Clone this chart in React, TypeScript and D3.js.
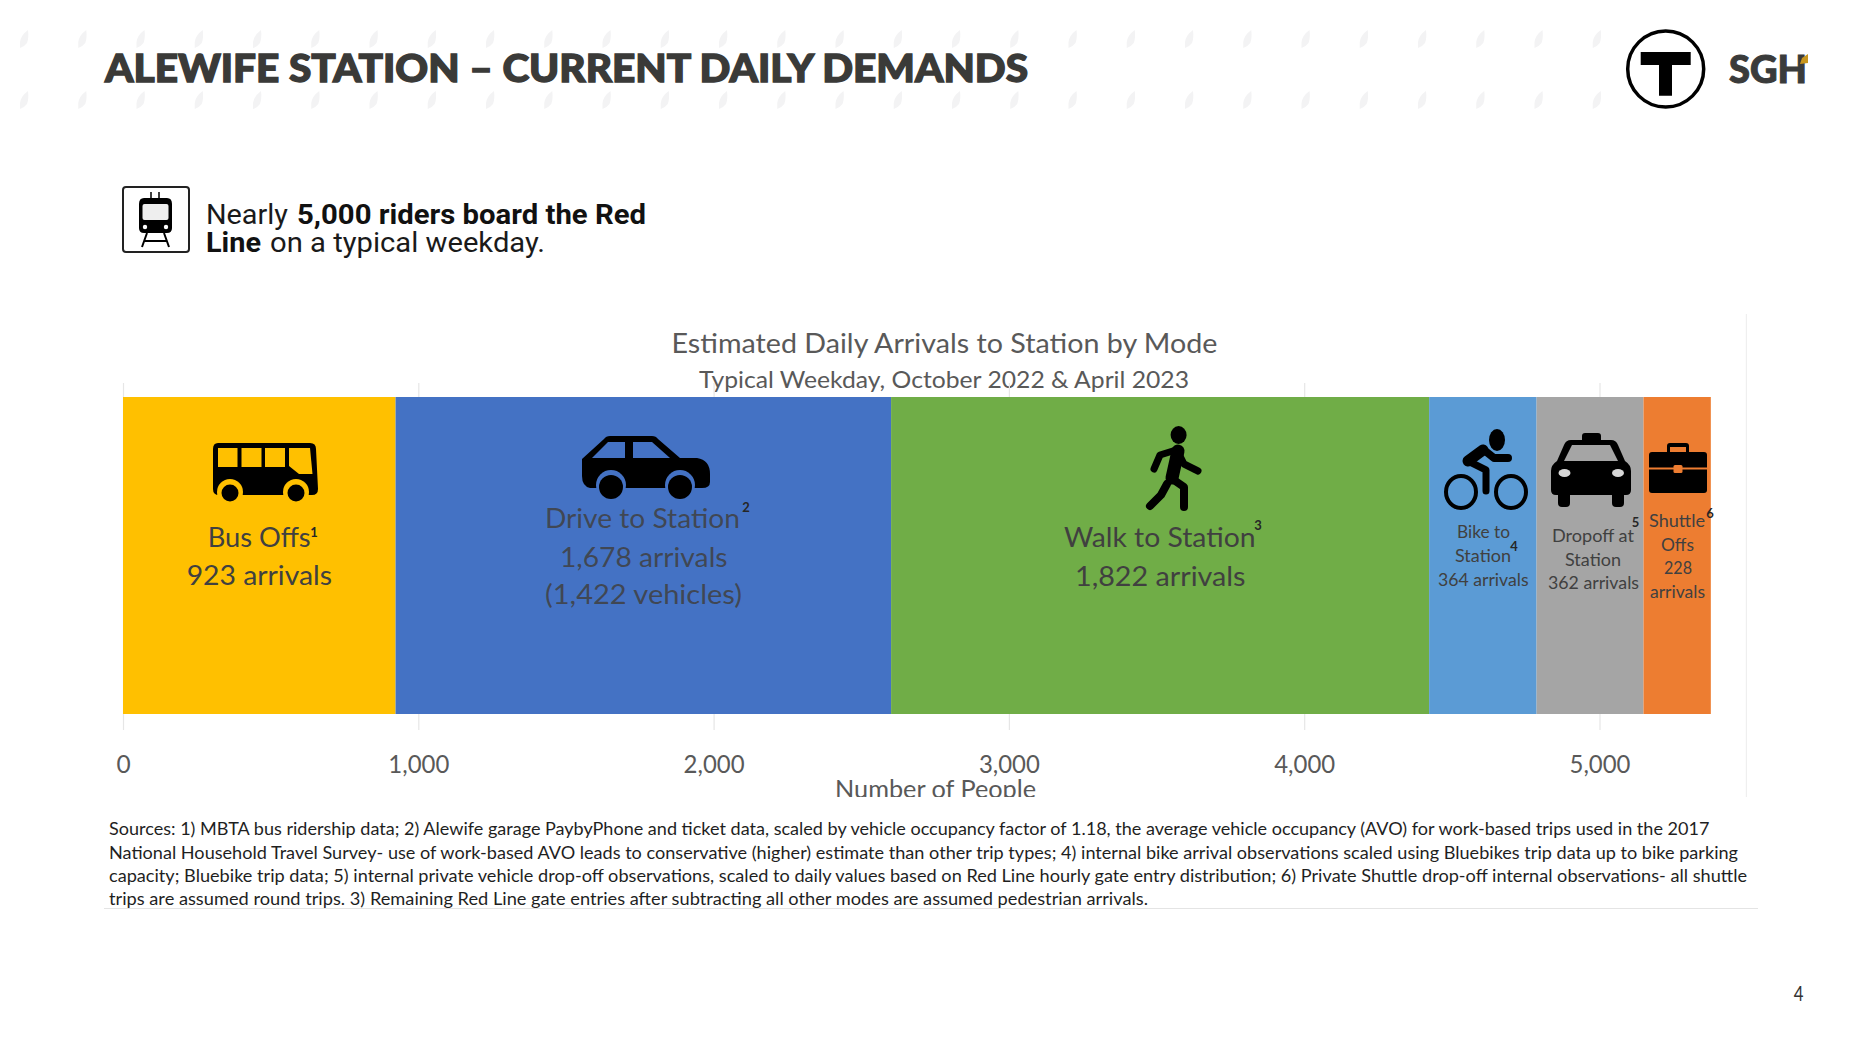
import React, { useEffect, useRef } from "react";
import * as d3 from "d3";

// values
const modes = ["Bus Offs", "Drive to Station", "Walk to Station", "Bike to Station", "Dropoff at Station", "Shuttle Offs"];
const arrivals = [923, 1678, 1822, 364, 362, 228];
const vehicles = 1422;
const barColors = ["#ffc000", "#4472c4", "#70ad47", "#5b9bd5", "#a5a5a5", "#ed7d31"];
const xTicks = [0, 1000, 2000, 3000, 4000, 5000];
const sourceLines = [
  "Sources: 1) MBTA bus ridership data; 2) Alewife garage PaybyPhone and ticket data, scaled by vehicle occupancy factor of 1.18, the average vehicle occupancy (AVO) for work-based trips used in the 2017",
  "National Household Travel Survey- use of work-based AVO leads to conservative (higher) estimate than other trip types; 4) internal bike arrival observations scaled using Bluebikes trip data up to bike parking",
  "capacity; Bluebike trip data; 5) internal private vehicle drop-off observations, scaled to daily values based on Red Line hourly gate entry distribution; 6) Private Shuttle drop-off internal observations- all shuttle",
  "trips are assumed round trips. 3) Remaining Red Line gate entries after subtracting all other modes are assumed pedestrian arrivals.",
];

const fmt = d3.format(",");
const chartFont = "Lato, 'Noto Sans', sans-serif";
const barText = "#404040";

const x = d3.scaleLinear().domain([0, 5000]).range([123, 1599.5]);
const barTop = 397;
const barBottom = 714;
const starts = [0, ...d3.cumsum(arrivals)];

// text squeezed between two x positions, the slide's font is narrower than Lato
const Fit = ({ x1, x2, y, size, fill = barText, weight = 400, font = chartFont, opacity = 1, thick = 0, children }: any) => (
  <text
    x={x1}
    y={y}
    textLength={x2 - x1}
    lengthAdjust="spacingAndGlyphs"
    fontSize={size}
    fontFamily={font}
    fontWeight={weight}
    fill={fill}
    fillOpacity={opacity}
    stroke={thick ? fill : "none"}
    strokeWidth={thick}
  >
    {children}
  </text>
);

const Sup = ({ x, y, children }: any) => (
  <text x={x} y={y} fontSize={13} fontFamily={chartFont} fontWeight={700} fill="#262626" textAnchor="middle">
    {children}
  </text>
);

const BusIcon = ({ bg }: any) => (
  <g transform="translate(213,443)">
    <path d="M5,0H97Q103,0 103,6L105,46Q105,52 99,52H6Q0,52 0,46V6Q0,0 5,0Z" fill="#000" />
    <g fill={bg}>
      <rect x={5} y={5} width={19.5} height={19} />
      <rect x={28.5} y={5} width={20} height={19} />
      <rect x={52} y={5} width={20} height={19} />
      <path d="M76,5H97L99.5,31H86L76,23Z" />
      <circle cx={17} cy={49} r={13} />
      <circle cx={83} cy={49} r={13} />
    </g>
    <circle cx={17} cy={50} r={8.5} fill="#000" />
    <circle cx={83} cy={50} r={8.5} fill="#000" />
  </g>
);

const CarIcon = ({ bg }: any) => (
  <g transform="translate(582,436)">
    <path d="M0,23L22,3Q24,0 28,0H70Q74,0 76,3L98,22H115Q128,24 128,38V46Q128,52 120,52H8Q0,50 0,40Z" fill="#000" />
    <g fill={bg}>
      <path d="M10,22L26,6H43V22Z" />
      <path d="M51,6H70L88,22H51Z" />
      <circle cx={29} cy={49} r={15} />
      <circle cx={98} cy={49} r={15} />
    </g>
    <circle cx={29} cy={51} r={12} fill="#000" />
    <circle cx={98} cy={51} r={12} fill="#000" />
  </g>
);

const WalkIcon = () => (
  <g transform="translate(1146,426)" stroke="#000" fill="none" strokeLinecap="round" strokeLinejoin="round">
    <ellipse cx={32.6} cy={9} rx={8} ry={9} fill="#000" stroke="none" />
    <path d="M32,25L26,52" strokeWidth={13} />
    <path d="M30,24L14,29L8,43" strokeWidth={7} />
    <path d="M32,26L38,38L52,45" strokeWidth={7} />
    <path d="M25,52L38,61V81" strokeWidth={8} />
    <path d="M21,58L15,69L4,80" strokeWidth={8} />
  </g>
);

const BikeIcon = () => (
  <g transform="translate(1444,428)" stroke="#000" fill="none" strokeLinecap="round" strokeLinejoin="round">
    <ellipse cx={53} cy={12} rx={8} ry={11} fill="#000" stroke="none" />
    <ellipse cx={17} cy={64} rx={15} ry={16} strokeWidth={4} />
    <ellipse cx={67} cy={64} rx={15} ry={16} strokeWidth={4} />
    <path d="M39,22L24,33" strokeWidth={11} />
    <path d="M24,33L42,42V63" strokeWidth={7} />
    <path d="M40,22L50,30H64" strokeWidth={8} />
  </g>
);

const TaxiIcon = ({ bg }: any) => (
  <g transform="translate(1551,433)">
    <rect x={31} y={0} width={19} height={10} rx={3} fill="#000" />
    <path d="M20,7H60Q65,7 67,12L74,28Q80,32 80,38V57Q80,62 75,62H5Q0,62 0,57V38Q0,32 6,28L13,12Q15,7 20,7Z" fill="#000" />
    <rect x={7} y={58} width={12} height={16} rx={4} fill="#000" />
    <rect x={61} y={58} width={12} height={16} rx={4} fill="#000" />
    <path d="M21,12H59L67,28H13Z" fill={bg} />
    <ellipse cx={13.5} cy={40} rx={6} ry={4} fill="#d8d8d8" />
    <ellipse cx={67} cy={40} rx={6} ry={4} fill="#d8d8d8" />
  </g>
);

const CaseIcon = ({ bg }: any) => (
  <g transform="translate(1649,443)">
    <rect x={18} y={0} width={22} height={14} rx={3} fill="#000" />
    <rect x={21} y={4} width={16} height={6} fill={bg} />
    <rect x={0} y={9} width={58} height={41} rx={3} fill="#000" />
    <rect x={0} y={24.5} width={58} height={2} fill={bg} />
    <rect x={24.5} y={22} width={9} height={8} rx={1.5} fill={bg} />
  </g>
);

const TrainIcon = () => (
  <g>
    <rect x={123} y={187} width={66} height={65} rx={3} fill="#fff" stroke="#222" strokeWidth={2} />
    <path d="M151,192V198M159,192V198" stroke="#000" strokeWidth={1.5} />
    <path d="M144,198H167Q172,198 172,204V228Q172,233 167,233H144Q139,233 139,228V204Q139,198 144,198Z" fill="#000" />
    <rect x={142.5} y={204} width={26} height={16} rx={2} fill="#eee" />
    <circle cx={145} cy={227} r={2.2} fill="#fff" />
    <circle cx={166} cy={227} r={2.2} fill="#fff" />
    <path d="M147,233L142,247M164,233L169,247M144,241H167" stroke="#000" strokeWidth={2} fill="none" />
  </g>
);

// faint slanted marks behind the header
const Backdrop = () => {
  const cols = d3.range(0, 28);
  const rows = [30, 91];
  return (
    <g fill="#f3f3f4">
      {rows.map((ry) =>
        cols.map((c) => (
          <path key={`${ry}-${c}`} transform={`translate(${19 + c * 58.25},${ry})`} d="M1,12Q2,5 9,0Q10,8 8,13Q5,17 1,18Z" />
        ))
      )}
    </g>
  );
};

export default function App() {
  const axisRef = useRef<SVGGElement>(null);

  useEffect(() => {
    const g = d3.select(axisRef.current);
    g.call(
      d3.axisBottom(x).tickValues(xTicks).tickFormat((d: any) => fmt(d)) as any
    );
    g.select(".domain").remove();
    g.selectAll(".tick line").attr("y1", -331).attr("y2", 16).attr("stroke", "#e6e6e6").attr("stroke-width", 1.2);
    g.selectAll(".tick text")
      .attr("y", 59)
      .attr("dy", 0)
      .attr("font-size", 24.5)
      .attr("font-family", chartFont)
      .attr("fill", "#595959")
      .each(function (d: any) {
        if (d > 0) {
          d3.select(this).attr("textLength", 61).attr("lengthAdjust", "spacingAndGlyphs");
        }
      });
    g.attr("font-family", null).attr("font-size", null);
  }, []);

  const bars = arrivals.map((v, i) => ({ name: modes[i], v, x0: starts[i], x1: starts[i] + v, color: barColors[i] }));

  return (
    <svg width={1857} height={1042} style={{ position: "absolute", left: 0, top: 0, background: "#fff" }}>
      <defs>
        <clipPath id="chartClip">
          <rect x={0} y={300} width={1857} height={497} />
        </clipPath>
      </defs>
      <Backdrop />

      <Fit x1={105} x2={1028} y={82} size={37} fill="#3a3a38" weight={900} thick={1.3}>
        ALEWIFE STATION – CURRENT DAILY DEMANDS
      </Fit>

      {/* logos */}
      <circle cx={1665.7} cy={69} r={38} fill="#fff" stroke="#000" strokeWidth={3.5} />
      <path d="M1640.7,52H1690.7V65H1672V95.7H1659V65H1640.7Z" fill="#000" />
      <Fit x1={1729} x2={1807} y={83} size={37} fill="#3a3b3b" weight={900} thick={1}>
        SGH
      </Fit>
      <path d="M1800,64L1802,58L1808,54V63Z" fill="#c8961e" />

      {/* callout */}
      <TrainIcon />
      <Fit x1={206} x2={288} y={224} size={27} fill="#1a1a1a" font="Roboto, sans-serif">Nearly</Fit>
      <Fit x1={297} x2={646} y={224} size={27} fill="#111" weight={700} font="Roboto, sans-serif">5,000 riders board the Red</Fit>
      <Fit x1={206} x2={261} y={252} size={27} fill="#111" weight={700} font="Roboto, sans-serif">Line</Fit>
      <Fit x1={270} x2={545} y={252} size={27} fill="#1a1a1a" font="Roboto, sans-serif">on a typical weekday.</Fit>

      {/* chart */}
      <line x1={1746.4} x2={1746.4} y1={314} y2={797} stroke="#efefef" strokeWidth={1.2} />
      <Fit x1={671.5} x2={1217.5} y={353} size={27} fill="#595959">Estimated Daily Arrivals to Station by Mode</Fit>
      <Fit x1={699} x2={1189} y={388} size={24} fill="#595959">Typical Weekday, October 2022 &amp; April 2023</Fit>

      <g ref={axisRef} transform={`translate(0,${barBottom})`} />

      {bars.map((b) => (
        <rect key={b.name} x={x(b.x0)} y={barTop} width={x(b.x1) - x(b.x0)} height={barBottom - barTop} fill={b.color} />
      ))}

      <g clipPath="url(#chartClip)">
        <Fit x1={835} x2={1036} y={798} size={24.5} fill="#595959">Number of People</Fit>
      </g>

      {/* segment icons and labels */}
      <BusIcon bg={barColors[0]} />
      <CarIcon bg={barColors[1]} />
      <WalkIcon />
      <BikeIcon />
      <TaxiIcon bg={barColors[4]} />
      <CaseIcon bg={barColors[5]} />

      <Fit x1={207.7} x2={310.7} y={546.7} size={27}>Bus Offs</Fit>
      <Sup x={314} y={537}>1</Sup>
      <Fit x1={186.7} x2={332} y={585} size={27}>{`${fmt(arrivals[0])} arrivals`}</Fit>

      <Fit x1={545} x2={740} y={528} size={27} opacity={0.85}>Drive to Station</Fit>
      <Sup x={746} y={512}>2</Sup>
      <Fit x1={560} x2={727.5} y={566.5} size={27} opacity={0.85}>{`${fmt(arrivals[1])} arrivals`}</Fit>
      <Fit x1={545} x2={742} y={604} size={27} opacity={0.85}>{`(${fmt(vehicles)} vehicles)`}</Fit>

      <Fit x1={1064} x2={1255.5} y={546.7} size={27}>Walk to Station</Fit>
      <Sup x={1258} y={530}>3</Sup>
      <Fit x1={1075} x2={1245.5} y={585.5} size={27}>{`${fmt(arrivals[2])} arrivals`}</Fit>

      <Fit x1={1457} x2={1510} y={538} size={18}>Bike to</Fit>
      <Fit x1={1455} x2={1511} y={562} size={18}>Station</Fit>
      <Sup x={1514} y={551}>4</Sup>
      <Fit x1={1438} x2={1528.6} y={586} size={18}>{`${fmt(arrivals[3])} arrivals`}</Fit>

      <Fit x1={1552} x2={1634} y={541.5} size={18}>Dropoff at</Fit>
      <Sup x={1635.5} y={527}>5</Sup>
      <Fit x1={1565} x2={1621} y={566} size={18}>Station</Fit>
      <Fit x1={1548} x2={1639} y={589} size={18}>{`${fmt(arrivals[4])} arrivals`}</Fit>

      <Fit x1={1649} x2={1705} y={526.5} size={18}>Shuttle</Fit>
      <Sup x={1710} y={518}>6</Sup>
      <Fit x1={1661} x2={1694} y={550.5} size={18}>Offs</Fit>
      <Fit x1={1664} x2={1692} y={574} size={18}>{fmt(arrivals[5])}</Fit>
      <Fit x1={1650} x2={1705} y={598} size={18}>arrivals</Fit>

      {/* sources */}
      {sourceLines.map((line, i) => (
        <Fit
          key={i}
          x1={109}
          x2={[1709.4, 1738, 1747, 1148][i]}
          y={[834.5, 858.5, 881.5, 905][i]}
          size={16.5}
          fill="#1f1f1f"
        >
          {line}
        </Fit>
      ))}
      <line x1={104} x2={1758} y1={908.5} y2={908.5} stroke="#e4e4e4" strokeWidth={1} />

      <text x={1798.5} y={1001} textAnchor="middle" fontSize={21} fontFamily={chartFont} fill="#333" transform="translate(1798.5,0) scale(0.8,1) translate(-1798.5,0)">4</text>
    </svg>
  );
}
